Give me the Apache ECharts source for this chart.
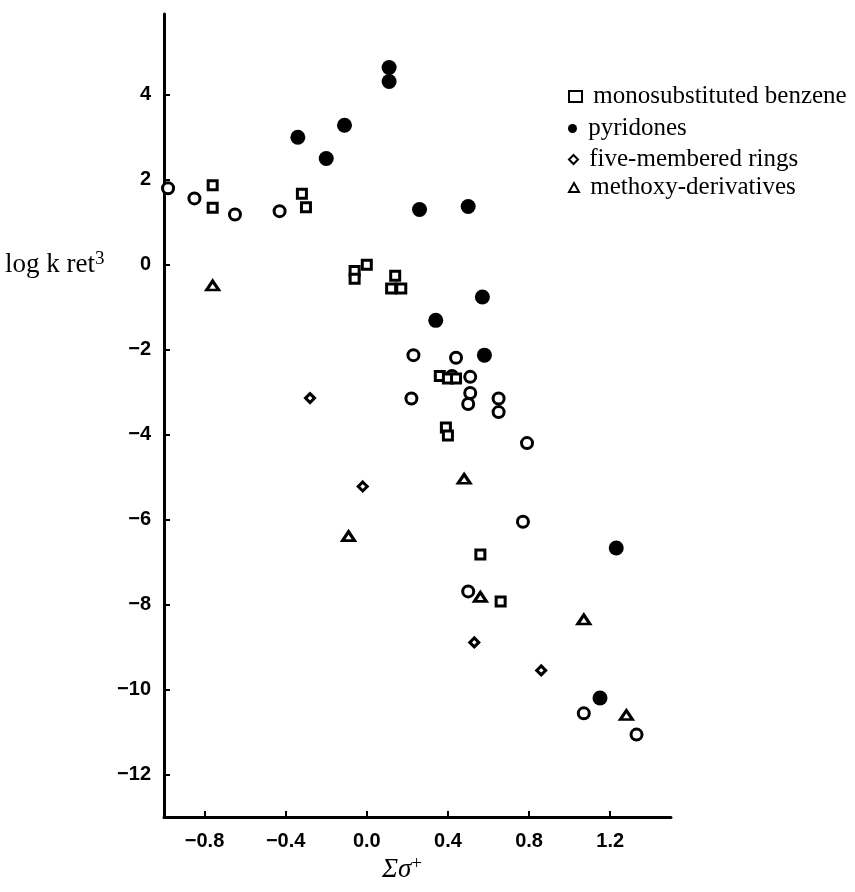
<!DOCTYPE html>
<html>
<head>
<meta charset="utf-8">
<title>log k ret vs sigma+</title>
<script src="https://cdn.jsdelivr.net/npm/echarts@6/dist/echarts.min.js"></script>
<style>
  html, body { margin: 0; padding: 0; background: #fff; }
  #chart { width: 855px; height: 892px; }
</style>
</head>
<body>
<div id="chart"></div>
<script>
// Substituent constant (Σσ+) vs. log k ret3, by compound class
const xTicks = [-0.8, -0.4, 0.0, 0.4, 0.8, 1.2];
const yTicks = [-12, -10, -8, -6, -4, -2, 0, 2, 4];

const seriesNames = [
  'monosubstituted benzene',
  'pyridones',
  'five-membered rings',
  'methoxy-derivatives'
];

const benzene = [
  [-0.76, 1.87], [-0.76, 1.34], [-0.32, 1.67], [-0.30, 1.35],
  [-0.06, -0.15], [-0.06, -0.33], [0.00, 0.00], [0.14, -0.26],
  [0.12, -0.56], [0.17, -0.56], [0.36, -2.62], [0.40, -2.68],
  [0.44, -2.68], [0.39, -3.83], [0.40, -4.02], [0.56, -6.82],
  [0.66, -7.93]
];

const pyridones = [
  [0.11, 4.64], [0.11, 4.31], [-0.34, 3.00], [-0.11, 3.28],
  [-0.20, 2.50], [0.26, 1.30], [0.50, 1.37], [0.57, -0.76],
  [0.34, -1.31], [0.58, -2.13], [1.23, -6.67], [1.15, -10.20]
];

const fiveMembered = [
  [-0.28, -3.14], [-0.02, -5.22], [0.53, -8.89], [0.86, -9.55]
];

const methoxy = [
  [-0.76, -0.49], [0.48, -5.04], [-0.09, -6.39], [0.56, -7.82],
  [1.07, -8.35], [1.28, -10.60]
];

const otherCompounds = [
  [-0.98, 1.80], [-0.85, 1.56], [-0.65, 1.18], [-0.43, 1.26],
  [0.23, -2.13], [0.44, -2.19], [0.51, -2.64], [0.42, -2.62],
  [0.51, -3.02], [0.50, -3.28], [0.22, -3.15], [0.65, -3.15],
  [0.65, -3.47], [0.79, -4.20], [0.77, -6.05], [0.50, -7.69],
  [1.07, -10.56], [1.33, -11.06]
];

const INK = '#000';
const tickFont = { fontFamily: 'Liberation Sans', fontWeight: 'bold', fontSize: 20, color: INK };
const serif = 'Liberation Serif';
const signed = (v, digits) => (v < 0 ? '\u2212' : '') + Math.abs(v).toFixed(digits);

const chart = echarts.init(document.getElementById('chart'), null, { renderer: 'canvas' });

const openStyle = { color: '#fff', borderColor: INK, borderWidth: 3, opacity: 1 };

function legendFor(name, top, w, h) {
  return {
    data: [name],
    left: 563,
    top: top,
    itemWidth: w,
    itemHeight: h,
    selectedMode: false,
    formatter: n => ' ' + n,
    textStyle: { fontFamily: serif, fontSize: 25, color: INK }
  };
}

chart.setOption({
  animation: false,
  backgroundColor: '#fff',
  grid: { left: 164, right: 184, top: 14, bottom: 75 },
  legend: [
    legendFor(seriesNames[0], 79, 13, 11),
    legendFor(seriesNames[1], 111, 9, 9),
    legendFor(seriesNames[2], 142, 9, 9),
    legendFor(seriesNames[3], 170, 10, 9)
  ],
  xAxis: {
    type: 'value',
    min: -1.0,
    max: 1.5,
    axisLine: { onZero: false, lineStyle: { color: INK, width: 3 } },
    axisTick: { customValues: xTicks, inside: true, length: 6, lineStyle: { color: INK, width: 2 } },
    axisLabel: {
      customValues: xTicks,
      margin: 14,
      formatter: v => signed(v, 1),
      ...tickFont
    },
    splitLine: { show: false }
  },
  yAxis: {
    type: 'value',
    min: -13,
    max: 5.9,
    axisLine: { onZero: false, lineStyle: { color: INK, width: 3 } },
    axisTick: { customValues: yTicks, inside: true, length: 6, lineStyle: { color: INK, width: 2 } },
    axisLabel: {
      customValues: yTicks,
      margin: 13,
      formatter: v => signed(v, 0),
      ...tickFont
    },
    splitLine: { show: false }
  },
  graphic: [
    {
      type: 'text',
      left: 5,
      top: 250,
      style: {
        text: '{a|log k ret}{b|3}',
        rich: {
          a: { fontFamily: serif, fontSize: 27, fill: INK },
          b: { fontFamily: serif, fontSize: 19, fill: INK, verticalAlign: 'top', padding: [0, 0, 10, 0] }
        }
      }
    },
    {
      type: 'text',
      left: 382,
      top: 855,
      style: {
        text: '{a|\u03A3\u03C3}{b|+}',
        rich: {
          a: { fontFamily: serif, fontStyle: 'italic', fontSize: 27, fill: INK },
          b: { fontFamily: serif, fontSize: 19, fill: INK, padding: [0, 0, 10, 0] }
        }
      }
    }
  ],
  series: [
    {
      name: 'other',
      type: 'scatter',
      symbol: 'circle',
      symbolSize: 11,
      itemStyle: openStyle,
      data: otherCompounds,
      silent: true
    },
    {
      name: seriesNames[0],
      type: 'scatter',
      symbol: 'rect',
      symbolSize: 9,
      itemStyle: openStyle,
      data: benzene,
      silent: true
    },
    {
      name: seriesNames[3],
      type: 'scatter',
      symbol: 'triangle',
      symbolSize: [12, 9],
      itemStyle: openStyle,
      data: methoxy,
      silent: true
    },
    {
      name: seriesNames[2],
      type: 'scatter',
      symbol: 'diamond',
      symbolSize: 9,
      itemStyle: openStyle,
      data: fiveMembered,
      silent: true
    },
    {
      name: seriesNames[1],
      type: 'scatter',
      symbol: 'circle',
      symbolSize: 15,
      itemStyle: { color: INK, opacity: 1 },
      data: pyridones,
      silent: true
    }
  ]
});
</script>
</body>
</html>
